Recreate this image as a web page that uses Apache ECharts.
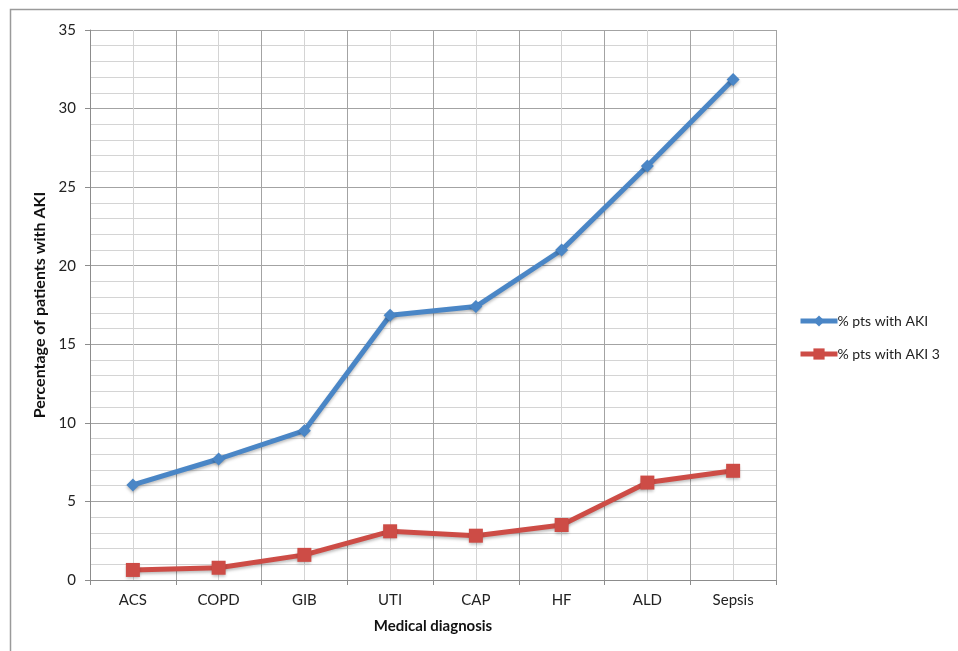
<!DOCTYPE html>
<html>
<head>
<meta charset="utf-8">
<script src="https://cdn.jsdelivr.net/npm/echarts@6/dist/echarts.min.js"></script>
<style>
html,body{margin:0;padding:0;background:#fff;}
#c{width:958px;height:651px;}
</style>
</head>
<body>
<div id="c"></div>
<script>
const categories = ['ACS', 'COPD', 'GIB', 'UTI', 'CAP', 'HF', 'ALD', 'Sepsis'];
const akiValues = [6.05, 7.7, 9.5, 16.85, 17.4, 21.0, 26.35, 31.85];
const aki3Values = [0.64, 0.78, 1.6, 3.1, 2.82, 3.5, 6.2, 6.95];
const seriesNames = ['% pts with AKI', '% pts with AKI 3'];
const yTitle = 'Percentage of patients with AKI';
const xTitle = 'Medical diagnosis';

const FONT = 'Lato';
const chart = echarts.init(document.getElementById('c'));
chart.setOption({
  animation: false,
  backgroundColor: '#fff',
  textStyle: {fontFamily: FONT},
  graphic: [{
    type: 'rect', silent: true, z: -10,
    shape: {x: 10.5, y: 9.5, width: 1000, height: 700},
    style: {fill: 'none', stroke: '#9a9a9a', lineWidth: 1.5}
  }],
  grid: {left: 90, right: 182, top: 30, bottom: 71},
  legend: {
    orient: 'vertical', left: 793, top: 309, itemGap: 19,
    itemWidth: 37, itemHeight: 14,
    lineStyle: {width: 5},
    textStyle: {fontFamily: FONT, fontSize: 14, color: '#222', padding: [0, 0, 0, -5]},
    data: seriesNames
  },
  xAxis: [{
    type: 'category', data: categories, boundaryGap: true,
    name: xTitle, nameLocation: 'middle', nameGap: 39,
    nameTextStyle: {fontFamily: FONT, fontSize: 15, fontWeight: 'bold', color: '#111'},
    axisLine: {lineStyle: {color: '#8c8c8c', width: 1}},
    axisTick: {show: true, alignWithLabel: false, length: 5, lineStyle: {color: '#8c8c8c'}},
    axisLabel: {fontFamily: FONT, fontSize: 15, color: '#222', margin: 13},
    splitLine: {show: false}
  }, {
    type: 'value', min: 0, max: 8, interval: 0.5, position: 'bottom',
    axisLine: {show: false}, axisTick: {show: false}, axisLabel: {show: false},
    splitLine: {show: true, lineStyle: {color: ['#a3a3a3', '#d4d4d4'], width: 1}}
  }],
  yAxis: {
    type: 'value', min: 0, max: 35, interval: 5,
    name: yTitle, nameLocation: 'middle', nameGap: 37, nameRotate: 90,
    nameTextStyle: {fontFamily: FONT, fontSize: 16, fontWeight: 'bold', color: '#111'},
    axisLine: {show: true, lineStyle: {color: '#8c8c8c', width: 1}},
    axisTick: {show: true, length: 5, lineStyle: {color: '#8c8c8c'}},
    axisLabel: {fontFamily: FONT, fontSize: 15, color: '#222', margin: 14},
    splitLine: {show: true, lineStyle: {color: '#a3a3a3', width: 1}},
    minorTick: {show: false, splitNumber: 5},
    minorSplitLine: {show: true, lineStyle: {color: '#d4d4d4', width: 1}}
  },
  series: [{
    name: seriesNames[0], type: 'line', data: akiValues, xAxisIndex: 0,
    symbol: 'diamond', symbolSize: 13,
    lineStyle: {width: 5, color: '#4a86c6', shadowColor: 'rgba(0,0,0,0.25)', shadowBlur: 3, shadowOffsetY: 2},
    itemStyle: {color: '#4a86c6', shadowColor: 'rgba(0,0,0,0.25)', shadowBlur: 3, shadowOffsetY: 2}
  }, {
    name: seriesNames[1], type: 'line', data: aki3Values, xAxisIndex: 0,
    symbol: 'rect', symbolSize: 14,
    lineStyle: {width: 5, color: '#cd4c46', shadowColor: 'rgba(0,0,0,0.25)', shadowBlur: 3, shadowOffsetY: 2},
    itemStyle: {color: '#cd4c46', shadowColor: 'rgba(0,0,0,0.25)', shadowBlur: 3, shadowOffsetY: 2}
  }]
});
</script>
</body>
</html>
